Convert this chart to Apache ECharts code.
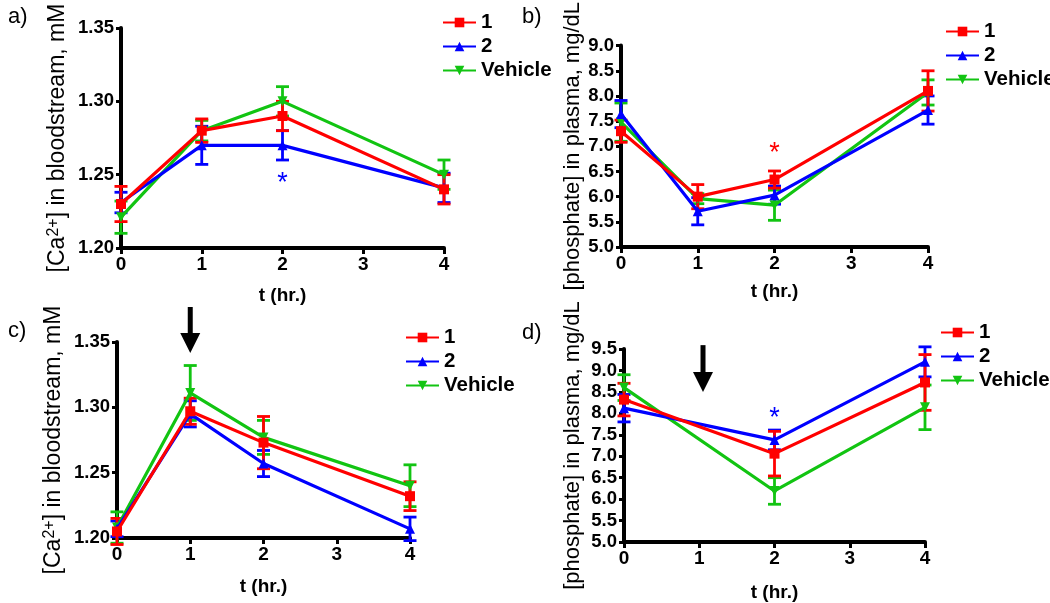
<!DOCTYPE html>
<html><head><meta charset="utf-8">
<script src="https://cdn.jsdelivr.net/npm/echarts@6/dist/echarts.min.js"></script>
<style>html,body{margin:0;padding:0;background:#fff}#c{width:1050px;height:603px}</style>
</head><body><div id="c"></div>
<script>
// ---------- DATA ----------
const seriesNames = ['1', '2', 'Vehicle'];
const tAll = [0, 1, 2, 4];
const tD = [0, 2, 4];

// Panel a: [Ca2+] in bloodstream (mM)
const caA_1 = [1.230, 1.280, 1.290, 1.240];
const caA_1_err = [0.012, 0.008, 0.010, 0.010];
const caA_2 = [1.231, 1.270, 1.270, 1.241];
const caA_2_err = [0.007, 0.013, 0.010, 0.010];
const caA_V = [1.221, 1.280, 1.300, 1.250];
const caA_V_err = [0.011, 0.007, 0.010, 0.010];

// Panel b: [phosphate] in plasma (mg/dL)
const phB_1 = [7.30, 6.00, 6.34, 8.10];
const phB_1_err = [0.22, 0.24, 0.17, 0.40];
const phB_2 = [7.64, 5.71, 6.03, 7.72];
const phB_2_err = [0.27, 0.27, 0.18, 0.28];
const phB_V = [7.48, 5.96, 5.83, 8.07];
const phB_V_err = [0.38, 0.10, 0.30, 0.25];

// Panel c: [Ca2+] in bloodstream (mM)
const caC_1 = [1.205, 1.297, 1.273, 1.232];
const caC_1_err = [0.010, 0.010, 0.020, 0.011];
const caC_2 = [1.207, 1.295, 1.257, 1.207];
const caC_2_err = [0.006, 0.010, 0.010, 0.009];
const caC_V = [1.208, 1.311, 1.277, 1.240];
const caC_V_err = [0.012, 0.021, 0.013, 0.016];

// Panel d: [phosphate] in plasma (mg/dL)
const phD_1 = [8.32, 7.06, 8.72];
const phD_1_err = [0.38, 0.52, 0.65];
const phD_2 = [8.12, 7.38, 9.20];
const phD_2_err = [0.32, 0.23, 0.35];
const phD_V = [8.60, 6.19, 8.14];
const phD_V_err = [0.30, 0.31, 0.52];

// Axis ticks
const xTicks = { min: 0, max: 4, interval: 1 };
const caTicks = { min: 1.20, max: 1.35, interval: 0.05 };
const phBTicks = { min: 5.0, max: 9.0, interval: 0.5 };
const phDTicks = { min: 5.0, max: 9.5, interval: 0.5 };

// Annotations: [panel, x, y, color]
const stars = [
  ['a', 2, 1.2484, 'blue'],
  ['b', 2, 7.00, 'red'],
  ['d', 2, 8.05, 'blue']
];
// Arrows: [panel, x, topValue, tipValue]
const arrows = [
  ['c', 1.0, 1.3768, 1.3416],
  ['d', 1.05, 9.59, 8.50]
];

// ---------- STYLE ----------
const FONT = 'Liberation Sans, Arial, sans-serif';
const COLORS = { '1': '#ff0000', '2': '#0000ff', 'Vehicle': '#12c412' };
const SYMBOLS = { '1': ['rect', 0, 10], '2': ['triangle', 0, 10], 'Vehicle': ['triangle', 180, 10] };
const panels = {
  a: { idx: 0, grid: { left: 121, top: 28, width: 323, height: 220 }, yt: caTicks, dec: 2, yName: '[Ca{sup|2+}] in bloodstream, mM', yFs: 23, yGap: 52, xGap: 38 },
  b: { idx: 1, grid: { left: 621, top: 39, width: 307, height: 208 }, yt: phBTicks, dec: 1, yName: '[phosphate] in plasma, mg/dL', yFs: 22, yGap: 37, xGap: 35 },
  c: { idx: 2, grid: { left: 117, top: 342, width: 293, height: 196 }, yt: caTicks, dec: 2, yName: '[Ca{sup|2+}] in bloodstream, mM', yFs: 23, yGap: 52, xGap: 39 },
  d: { idx: 3, grid: { left: 624, top: 349, width: 301, height: 194 }, yt: phDTicks, dec: 1, yName: '[phosphate] in plasma, mg/dL', yFs: 22, yGap: 40, xGap: 41 }
};
const panelData = {
  a: { x: tAll, '1': [caA_1, caA_1_err], '2': [caA_2, caA_2_err], 'Vehicle': [caA_V, caA_V_err] },
  b: { x: tAll, '1': [phB_1, phB_1_err], '2': [phB_2, phB_2_err], 'Vehicle': [phB_V, phB_V_err] },
  c: { x: tAll, '1': [caC_1, caC_1_err], '2': [caC_2, caC_2_err], 'Vehicle': [caC_V, caC_V_err] },
  d: { x: tD, '1': [phD_1, phD_1_err], '2': [phD_2, phD_2_err], 'Vehicle': [phD_V, phD_V_err] }
};
const legendPos = {
  a: { left: 442, top: 12 },
  b: { left: 945, top: 21 },
  c: { left: 405, top: 327 },
  d: { left: 940, top: 322 }
};
const panelLabels = [
  ['a)', 8, 6], ['b)', 522, 6], ['c)', 8, 320], ['d)', 522, 322]
];

const grids = [], xAxes = [], yAxes = [], series = [], legends = [];
Object.keys(panels).forEach(k => {
  const p = panels[k], i = p.idx;
  grids.push(p.grid);
  xAxes.push({
    type: 'value', gridIndex: i, min: xTicks.min, max: xTicks.max, interval: xTicks.interval,
    name: 't (hr.)', nameLocation: 'middle', nameGap: p.xGap,
    nameTextStyle: { fontFamily: FONT, fontWeight: 'bold', fontSize: 19, color: '#000' },
    axisLine: { onZero: false, lineStyle: { color: '#000', width: 4 } },
    axisTick: { length: 6, lineStyle: { width: 3, color: '#000' } },
    axisLabel: { fontFamily: FONT, fontWeight: 'bold', fontSize: 19, color: '#000', margin: 7 },
    splitLine: { show: false }
  });
  yAxes.push({
    type: 'value', gridIndex: i, min: p.yt.min, max: p.yt.max, interval: p.yt.interval,
    name: p.yName, nameLocation: 'middle', nameGap: p.yGap,
    nameTextStyle: { fontFamily: FONT, fontSize: p.yFs, color: '#000',
      rich: { sup: { fontFamily: FONT, fontSize: 16, color: '#000', verticalAlign: 'top', lineHeight: 23 } } },
    axisLine: { onZero: false, lineStyle: { color: '#000', width: 4 } },
    axisTick: { length: 5, lineStyle: { width: 3, color: '#000' } },
    axisLabel: { fontFamily: FONT, fontWeight: 'bold', fontSize: 18.5, color: '#000', margin: 7,
      formatter: v => v.toFixed(p.dec) },
    splitLine: { show: false }
  });
  const d = panelData[k];
  ['Vehicle', '2', '1'].forEach((nm, zi) => {
    const [ys, es] = d[nm];
    const col = COLORS[nm];
    series.push({
      type: 'custom', name: 'err-' + nm, xAxisIndex: i, yAxisIndex: i, z: 2 + zi,
      data: d.x.map((x, j) => [x, ys[j] - es[j], ys[j] + es[j]]),
      encode: { x: 0, y: [1, 2] },
      renderItem: (params, api) => {
        const x = api.value(0);
        const pl = api.coord([x, api.value(1)]);
        const ph = api.coord([x, api.value(2)]);
        const w = 6.5;
        const st = { stroke: col, lineWidth: 2.8 };
        return { type: 'group', children: [
          { type: 'line', shape: { x1: pl[0], y1: pl[1], x2: ph[0], y2: ph[1] }, style: st },
          { type: 'line', shape: { x1: ph[0] - w, y1: ph[1], x2: ph[0] + w, y2: ph[1] }, style: st },
          { type: 'line', shape: { x1: pl[0] - w, y1: pl[1], x2: pl[0] + w, y2: pl[1] }, style: st }
        ] };
      },
      silent: true
    });
    const sym = SYMBOLS[nm];
    series.push({
      type: 'line', name: nm, xAxisIndex: i, yAxisIndex: i, z: 5 + zi,
      data: d.x.map((x, j) => [x, ys[j]]),
      symbol: sym[0], symbolRotate: sym[1], symbolSize: sym[2], showAllSymbol: true,
      lineStyle: { color: col, width: 3.2 }, itemStyle: { color: col },
      animation: false
    });
  });
  legends.push({
    data: seriesNames, orient: 'vertical', left: legendPos[k].left, top: legendPos[k].top,
    itemWidth: 33, itemHeight: 12, itemGap: 3, padding: 0,
    textStyle: { fontFamily: FONT, fontWeight: 'bold', fontSize: 20.5, color: '#000', lineHeight: 20 },
    selectedMode: false
  });
});

// stars
stars.forEach(s => {
  const i = panels[s[0]].idx;
  series.push({
    type: 'custom', name: 'star', xAxisIndex: i, yAxisIndex: i, z: 10, silent: true,
    data: [[s[1], s[2]]],
    renderItem: (params, api) => {
      const pt = api.coord([api.value(0), api.value(1)]);
      return { type: 'text', x: pt[0], y: pt[1] + 7,
        style: { text: '*', fill: s[3], font: '27px ' + FONT, align: 'center', verticalAlign: 'middle' } };
    }
  });
});
// arrows
arrows.forEach(a => {
  const i = panels[a[0]].idx;
  series.push({
    type: 'custom', name: 'arrow', xAxisIndex: i, yAxisIndex: i, z: 10, silent: true, clip: false,
    data: [[a[1], a[2], a[3]]],
    renderItem: (params, api) => {
      const top = api.coord([api.value(0), api.value(1)]);
      const tip = api.coord([api.value(0), api.value(2)]);
      const hw = 10, hh = 20, sw = 2.5;
      const x = top[0];
      return { type: 'group', children: [
        { type: 'rect', shape: { x: x - sw, y: top[1], width: sw * 2, height: tip[1] - hh - top[1] + 1 }, style: { fill: '#000' } },
        { type: 'polygon', shape: { points: [[x - hw, tip[1] - hh], [x + hw, tip[1] - hh], [x, tip[1]]] }, style: { fill: '#000' } }
      ] };
    }
  });
});

const graphics = panelLabels.map(l => ({
  type: 'text', left: l[1], top: l[2],
  style: { text: l[0], font: '22px ' + FONT, fill: '#000' }
}));

const chart = echarts.init(document.getElementById('c'), null, { renderer: 'canvas' });
chart.setOption({
  animation: false,
  backgroundColor: '#fff',
  grid: grids, xAxis: xAxes, yAxis: yAxes, legend: legends,
  series: series, graphic: graphics
});
</script></body></html>
